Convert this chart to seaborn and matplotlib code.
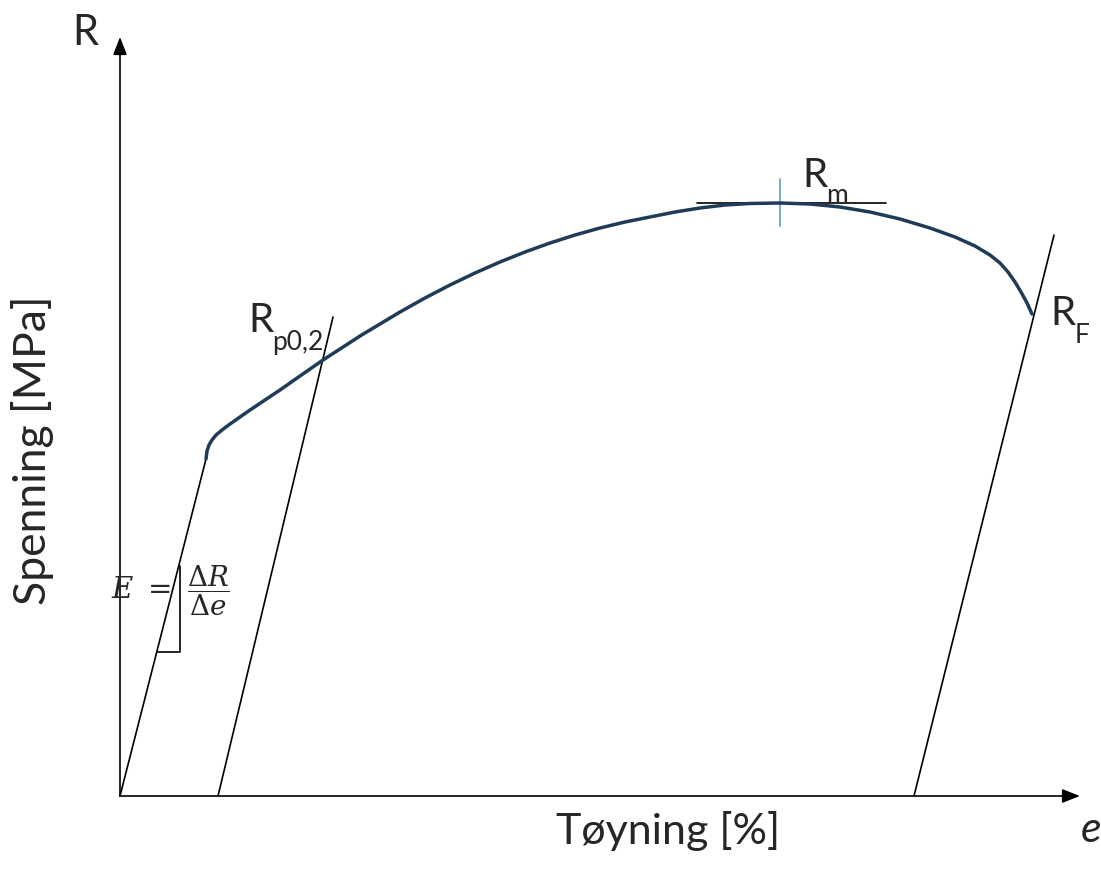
import matplotlib
matplotlib.use("Agg")
import matplotlib.pyplot as plt
import pandas as pd
import seaborn as sns

sns.set_theme(style="white")
plt.rcParams["font.family"] = ["Lato", "DejaVu Sans"]

# schematic stress-strain curve, arbitrary units
strain = [86, 87, 89, 92, 96, 102, 110, 120, 130, 145, 160, 180, 203, 220,
          240, 260, 280, 305, 330, 355, 380, 405, 430, 455, 480, 505, 530,
          555, 580, 605, 630, 660, 690, 720, 750, 780, 810, 835, 855, 870,
          880, 888, 895, 901, 907, 912]
stress = [337, 345, 351, 356, 361, 366, 372, 379, 386, 396, 406, 420, 436, 447,
          460, 472, 484, 498, 511, 523, 534, 544, 553, 561, 568, 574, 579,
          584, 588, 591, 592.5, 593, 592, 589, 584, 577, 568, 559, 550, 541,
          533, 524, 514, 504, 493, 482]

elastic_x = [0, 86]
elastic_y = [0, 337]
offset_x = [98, 213]
offset_y = [0, 479]
fracture_x = [794, 934]
fracture_y = [0, 561]
rm_x = [577, 766]
rm_y = [593, 593]
rm_tick_x = [660, 660]
rm_tick_y = [570, 617]
tri_x = [37, 60, 60]
tri_y = [144, 144, 230]

curve = pd.DataFrame({"strain": strain, "stress": stress})

fig = plt.figure(figsize=(11.01, 8.70), dpi=100)
ax = fig.add_axes([0, 0, 1, 1])
ax.set_xlim(-120, 981)
ax.set_ylim(-73, 797)
ax.axis("off")

thin = dict(color="black", lw=1.2)
ax.plot(elastic_x, elastic_y, **thin)
ax.plot(offset_x, offset_y, **thin)
ax.plot(fracture_x, fracture_y, **thin)
ax.plot(rm_x, rm_y, **thin)
ax.plot(tri_x, tri_y, **thin)
ax.plot(rm_tick_x, rm_tick_y, color="#5b9bd5", lw=1.2)
sns.lineplot(data=curve, x="strain", y="stress", ax=ax, color="#1f3b57",
             lw=2.5, sort=False, estimator=None)

# axes with arrow heads
arrow = dict(arrowstyle="-|>,head_length=0.9,head_width=0.35", color="black",
             lw=1.2, shrinkA=0, shrinkB=0)
ax.annotate("", xy=(0, 759), xytext=(0, 0), arrowprops=arrow)
ax.annotate("", xy=(960, 0), xytext=(0, 0), arrowprops=arrow)

ax.text(-35, 752, "R", fontsize=30, ha="center", va="baseline")
ax.text(971, -33, "e", fontsize=31, style="italic", ha="center", va="center")
ax.text(548, -47, "Tøyning [%]", fontsize=31, ha="center", va="baseline")
ax.text(-87, 347, "Spenning [MPa]", fontsize=32, rotation=90,
        ha="center", va="center")

ax.text(128, 465, "R", fontsize=29, ha="left", va="baseline")
ax.text(152, 447, "p0,2", fontsize=19, ha="left", va="baseline")
ax.text(682, 610, "R", fontsize=29, ha="left", va="baseline")
ax.text(706, 594, "m", fontsize=19, ha="left", va="baseline")
ax.text(930, 472, "R", fontsize=29, ha="left", va="baseline")
ax.text(955, 454, "F", fontsize=19, ha="left", va="baseline")

ax.text(21, 207, r"$E\ =$", fontsize=21, ha="center", va="center",
        math_fontfamily="dejavuserif")
ax.text(88, 206, r"$\dfrac{\Delta R}{\Delta e}$", fontsize=20, ha="center",
        va="center", math_fontfamily="dejavuserif")

fig.savefig("out.png", dpi=100)
